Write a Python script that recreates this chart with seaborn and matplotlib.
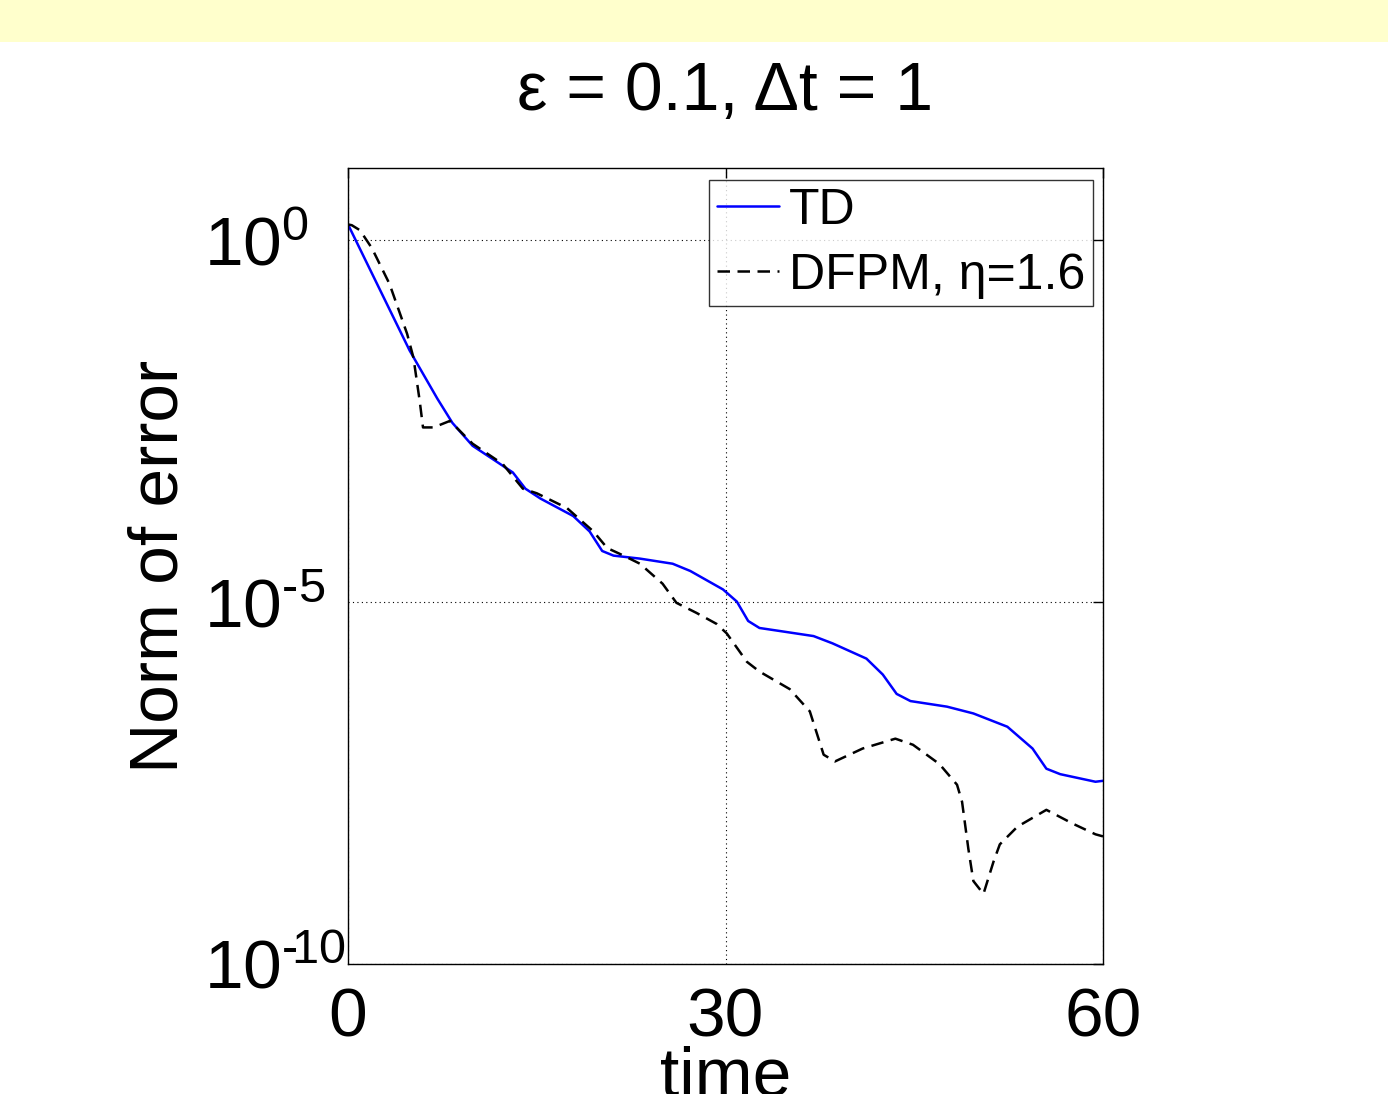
import matplotlib
matplotlib.use("Agg")
import matplotlib.pyplot as plt
import seaborn as sns
import pandas as pd
from matplotlib.patches import Rectangle

# data
td_time = [0, 4.9, 7.1, 8.3, 9.9, 11.5, 13.1, 14.1, 15.3, 17.9, 19.2, 20.2, 21.1,
           23.2, 25.8, 27.2, 29.8, 30.9, 31.8, 32.7, 34.3, 37.0, 38.5, 41.2, 42.5,
           43.6, 44.7, 47.6, 49.7, 52.4, 54.4, 55.5, 56.6, 59.4, 60]
td_err = [1.66, 3.0e-2, 6.5e-3, 3.0e-3, 1.45e-3, 9.5e-4, 6.2e-4, 3.7e-4, 2.7e-4,
          1.55e-4, 9.5e-5, 5.1e-5, 4.4e-5, 4.0e-5, 3.4e-5, 2.7e-5, 1.5e-5, 1.02e-5,
          5.5e-6, 4.4e-6, 4.0e-6, 3.4e-6, 2.7e-6, 1.66e-6, 1.0e-6, 5.4e-7, 4.3e-7,
          3.6e-7, 2.9e-7, 1.9e-7, 9.5e-8, 5.0e-8, 4.2e-8, 3.3e-8, 3.4e-8]

dfpm_time = [0, 0.3, 0.95, 1.9, 3.3, 4.7, 5.2, 5.7, 5.96, 6.8, 8.1, 9.9, 12.3, 13.9,
             15.0, 17.4, 19.5, 20.6, 21.9, 23.2, 25.0, 26.1, 27.7, 29.3, 30.1, 31.7,
             32.7, 35.1, 36.7, 37.8, 38.7, 40.9, 43.5, 44.9, 47.0, 48.4, 48.8, 49.3,
             49.7, 50.5, 51.3, 51.8, 53.2, 55.5, 57.6, 59.4, 60]
dfpm_err = [1.66, 1.62, 1.38, 0.78, 0.25, 5.1e-2, 2.4e-2, 6.0e-3, 2.6e-3, 2.6e-3,
            3.2e-3, 1.55e-3, 8.1e-4, 3.7e-4, 3.2e-4, 2.0e-4, 9.5e-5, 5.6e-5, 4.4e-5,
            3.4e-5, 1.8e-5, 9.8e-6, 7.1e-6, 5.0e-6, 3.7e-6, 1.5e-6, 1.1e-6, 6.3e-7,
            3.1e-7, 7.8e-8, 6.3e-8, 9.5e-8, 1.3e-7, 1.07e-7, 5.8e-8, 3.0e-8, 1.74e-8,
            3.9e-9, 1.4e-9, 9.3e-10, 2.6e-9, 4.5e-9, 7.9e-9, 1.35e-8, 8.7e-9, 6.2e-9,
            5.8e-9]

x_ticks = [0, 30, 60]
y_ticks = [1e-10, 1e-5, 1e0]
y_ticklabels = [r"$10^{\text{-}\!10}$", r"$10^{\text{-}5}$", r"$10^{0}$"]

td = pd.DataFrame({"time": td_time, "err": td_err})
dfpm = pd.DataFrame({"time": dfpm_time, "err": dfpm_err})

sns.set_style("white")
plt.rcParams["font.family"] = ["Liberation Sans", "DejaVu Sans"]
plt.rcParams["mathtext.fontset"] = "custom"
plt.rcParams["mathtext.rm"] = "Liberation Sans"
plt.rcParams["mathtext.it"] = "Liberation Sans"
plt.rcParams["text.color"] = "black"
plt.rcParams["axes.labelcolor"] = "black"

fig = plt.figure(figsize=(13.88, 10.94), dpi=100)
fig.patches.append(Rectangle((0, 1 - 42 / 1094), 1, 42 / 1094, transform=fig.transFigure,
                             facecolor="#ffffcc", edgecolor="none", zorder=0))
ax = fig.add_axes([348 / 1388, 1 - 964 / 1094, 755 / 1388, 796 / 1094])

sns.lineplot(data=td, x="time", y="err", ax=ax, color="#0000ff", lw=1.8, label="TD")
sns.lineplot(data=dfpm, x="time", y="err", ax=ax, color="black", lw=1.8,
             linestyle=(0, (5, 3)), label="DFPM, η=1.6")

ax.set_yscale("log")
ax.set_xlim(0, 60)
ax.set_ylim(1e-10, 1e1)
ax.set_xticks(x_ticks)
ax.set_yticks(y_ticks)
ax.set_yticklabels(y_ticklabels)
ax.yaxis.set_minor_locator(matplotlib.ticker.NullLocator())

ax.grid(True, which="major", color="black", linestyle=(0, (1, 3)), lw=0.8)
ax.tick_params(direction="in", length=7, width=1, top=True, right=True,
               labelsize=50, colors="black")
ax.tick_params(axis="x", pad=16)
ax.tick_params(axis="y", pad=104)
for lab in ax.get_yticklabels():
    lab.set_horizontalalignment("left")
for s in ax.spines.values():
    s.set_color("black")
    s.set_linewidth(1)

ax.set_title("ε = 0.1, Δt = 1", fontsize=49, pad=42)
ax.set_xlabel("time", fontsize=50)
ax.set_ylabel("Norm of error", fontsize=50)
ax.xaxis.set_label_coords(0.5, -0.102)
ax.yaxis.set_label_coords(-0.207, 0.5)

leg = ax.legend(loc="upper right", bbox_to_anchor=(0.9868, 0.9849), borderaxespad=0,
                fontsize=36, frameon=True, fancybox=False, handlelength=1.25,
                handletextpad=0.2, labelspacing=0.38, borderpad=0.15)
leg.get_frame().set_edgecolor("black")
leg.get_frame().set_linewidth(1)

plt.savefig("out.png", dpi=100)
